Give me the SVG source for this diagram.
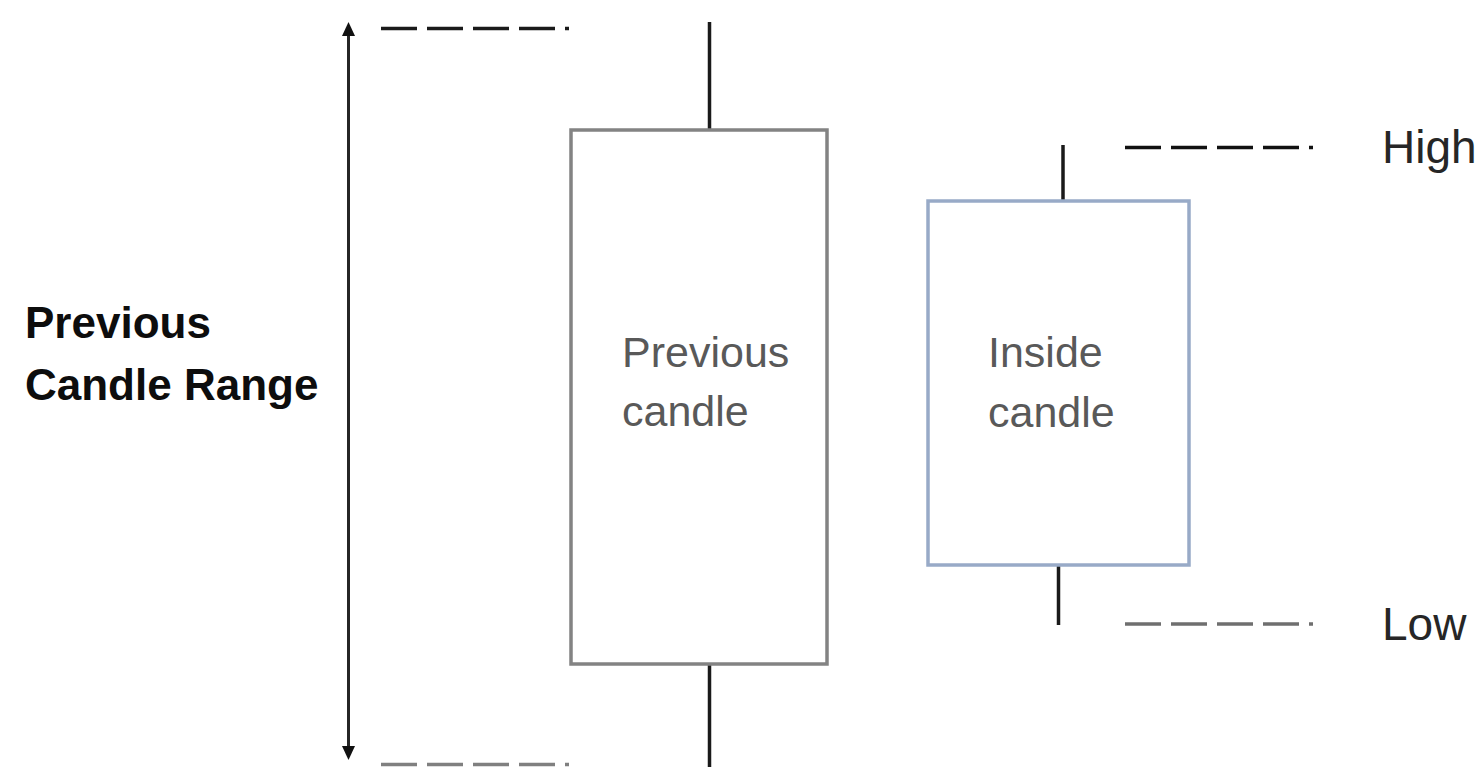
<svg xmlns="http://www.w3.org/2000/svg" width="1479" height="767" viewBox="0 0 1479 767">
  <style>
    .wick { stroke: #1a1a1a; stroke-width: 3.5; fill: none; }
    .dash { stroke-width: 3.5; fill: none; stroke-dasharray: 36 10; }
    .lbl { font-family: "Liberation Sans", Arial, sans-serif; font-size: 43px; fill: #595959; }
    .side { font-family: "Liberation Sans", Arial, sans-serif; font-size: 46px; fill: #262626; }
    .bold { font-family: "Liberation Sans", Arial, sans-serif; font-size: 44px; font-weight: bold; fill: #0d0d0d; }
  </style>
  <rect width="1479" height="767" fill="#ffffff"/>

  <g id="connectors">
    <line x1="348.5" y1="34" x2="348.5" y2="748" stroke="#262626" stroke-width="3"/>
    <polygon points="348.5,22 342,36 355,36" fill="#111111"/>
    <polygon points="348.5,760 342,746 355,746" fill="#111111"/>
    <line class="dash" x1="381" y1="28.5" x2="569" y2="28.5" stroke="#1a1a1a"/>
    <line class="dash" x1="381" y1="764.5" x2="569" y2="764.5" stroke="#808080"/>
    <line class="dash" x1="1125" y1="147.5" x2="1313" y2="147.5" stroke="#111111"/>
    <line class="dash" x1="1125" y1="624" x2="1313" y2="624" stroke="#6f6f6f"/>
  </g>

  <g id="previous-candle">
    <line class="wick" x1="709.5" y1="22" x2="709.5" y2="130"/>
    <line class="wick" x1="709.5" y1="664" x2="709.5" y2="767"/>
    <rect x="571" y="130" width="256" height="534" fill="#ffffff" stroke="#838383" stroke-width="3.5"/>
    <text class="lbl" x="622" y="367">Previous</text>
    <text class="lbl" x="622" y="426">candle</text>
  </g>

  <g id="inside-candle">
    <line class="wick" x1="1063" y1="145" x2="1063" y2="201"/>
    <line class="wick" x1="1058.5" y1="565" x2="1058.5" y2="625"/>
    <rect x="928" y="201" width="261" height="364" fill="#ffffff" stroke="#98aac7" stroke-width="3.5"/>
    <text class="lbl" x="988" y="367">Inside</text>
    <text class="lbl" x="988" y="427">candle</text>
  </g>

  <g id="high-label">
    <text class="side" x="1382" y="163">High</text>
  </g>
  <g id="low-label">
    <text class="side" x="1382" y="640">Low</text>
  </g>

  <g id="range-label">
    <text class="bold" x="25" y="338">Previous</text>
    <text class="bold" x="25" y="400">Candle Range</text>
  </g>
</svg>
